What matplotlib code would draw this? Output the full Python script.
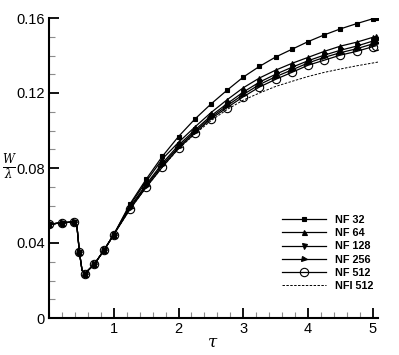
import matplotlib
matplotlib.use('Agg')
import matplotlib.pyplot as plt
import numpy as np
from matplotlib.ticker import MultipleLocator

plt.rcParams['font.family'] = ['Liberation Sans', 'DejaVu Sans']
plt.rcParams['mathtext.fontset'] = 'dejavuserif'

# shared start of every run (impact and dip)
tau_early = [0.0, 0.2, 0.38, 0.43, 0.47, 0.51, 0.55, 0.7, 0.85, 1.0]
w_early = [0.0500, 0.0508, 0.0512, 0.0495, 0.0350, 0.0255, 0.0236, 0.0287, 0.0362, 0.0445]

tau_late = [1.25, 1.5, 1.75, 2.0, 2.25, 2.5, 2.75, 3.0, 3.25, 3.5,
            3.75, 4.0, 4.25, 4.5, 4.75, 5.0, 5.05]

w_nf32 = [0.0608, 0.0740, 0.0862, 0.0968, 0.1060, 0.1141, 0.1215, 0.1285, 0.1342,
          0.1392, 0.1433, 0.1474, 0.1510, 0.1542, 0.1570, 0.1596, 0.1602]
w_nf64 = [0.0602, 0.0728, 0.0848, 0.0937, 0.1018, 0.1095, 0.1164, 0.1228, 0.1280,
          0.1322, 0.1358, 0.1390, 0.1422, 0.1450, 0.1471, 0.1497, 0.1502]
w_nf128 = [0.0592, 0.0712, 0.0825, 0.0922, 0.1002, 0.1078, 0.1143, 0.1205, 0.1258,
           0.1300, 0.1337, 0.1372, 0.1402, 0.1428, 0.1450, 0.1477, 0.1482]
w_nf256 = [0.0586, 0.0705, 0.0815, 0.0913, 0.0993, 0.1070, 0.1132, 0.1192, 0.1245,
           0.1287, 0.1323, 0.1360, 0.1390, 0.1415, 0.1436, 0.1462, 0.1467]
w_nf512 = [0.0580, 0.0697, 0.0805, 0.0905, 0.0985, 0.1062, 0.1122, 0.1180, 0.1232,
           0.1273, 0.1310, 0.1348, 0.1375, 0.1402, 0.1422, 0.1447, 0.1452]

tau_nfi = [1.25, 1.5, 1.75, 2.0, 2.25, 2.5, 2.75, 3.0, 3.25, 3.5,
           3.75, 4.0, 4.25, 4.5, 4.75, 5.0, 5.08]
w_nfi512 = [0.0580, 0.0697, 0.0805, 0.0903, 0.0980, 0.1052, 0.1112, 0.1162, 0.1200,
            0.1235, 0.1262, 0.1288, 0.1310, 0.1328, 0.1345, 0.1360, 0.1365]

series = [('NF 32', w_nf32, 's', 'k', 3.2),
          ('NF 64', w_nf64, '^', 'k', 3.6),
          ('NF 128', w_nf128, 'v', 'k', 3.6),
          ('NF 256', w_nf256, '>', 'k', 3.6),
          ('NF 512', w_nf512, 'o', 'none', 6)]

fig = plt.figure(figsize=(3.99, 3.55), dpi=100)
ax = fig.add_axes([49/399, 37/355, 329/399, 300/355])

n_pts = len(tau_early) + len(tau_late)
skip = [3, 5]  # no symbols on the steep part of the dip
marks = [i for i in range(n_pts) if i not in skip]

for label, w, mk, fc, ms in series:
    ax.plot(tau_early + tau_late, w_early + w, '-', color='k', lw=0.9,
            marker=mk, markersize=ms, markerfacecolor=fc, markeredgecolor='k',
            markeredgewidth=0.8, markevery=marks, label=label)
ax.plot(tau_early + tau_nfi, w_early + w_nfi512, '--', color='k', lw=0.7,
        dashes=(2.5, 1.5), label='NFI 512')

ax.set_xlim(0, 5.08)
ax.set_ylim(0, 0.16)
ax.xaxis.set_minor_locator(MultipleLocator(0.2))
ax.yaxis.set_minor_locator(MultipleLocator(0.01))
ax.set_xticks([1, 2, 3, 4, 5])
ax.set_yticks([0, 0.04, 0.08, 0.12, 0.16])
ax.set_yticklabels(['0', '0.04', '0.08', '0.12', '0.16'])

ax.tick_params(which='major', direction='in', length=7, width=1.3, labelsize=10.5, pad=3)
ax.tick_params(which='minor', direction='in', length=4, width=0.8, color='0.55')
for side in ['top', 'right']:
    ax.spines[side].set_visible(False)
for side in ['left', 'bottom']:
    ax.spines[side].set_linewidth(1.5)

fig.text(9/399, 1 - 167/355, r'$\frac{W}{\lambda}$', fontsize=12,
         ha='center', va='center')
fig.text(213/399, 1 - 342/355, r'$\tau$', fontsize=12, ha='center', va='center')

leg = ax.legend(loc='lower right', bbox_to_anchor=(1.0, 0.075), frameon=False,
                handlelength=4.0, handletextpad=0.9, labelspacing=0.3,
                prop={'weight': 'bold', 'size': 7.8}, borderaxespad=0)

fig.savefig('out.png', dpi=100)
